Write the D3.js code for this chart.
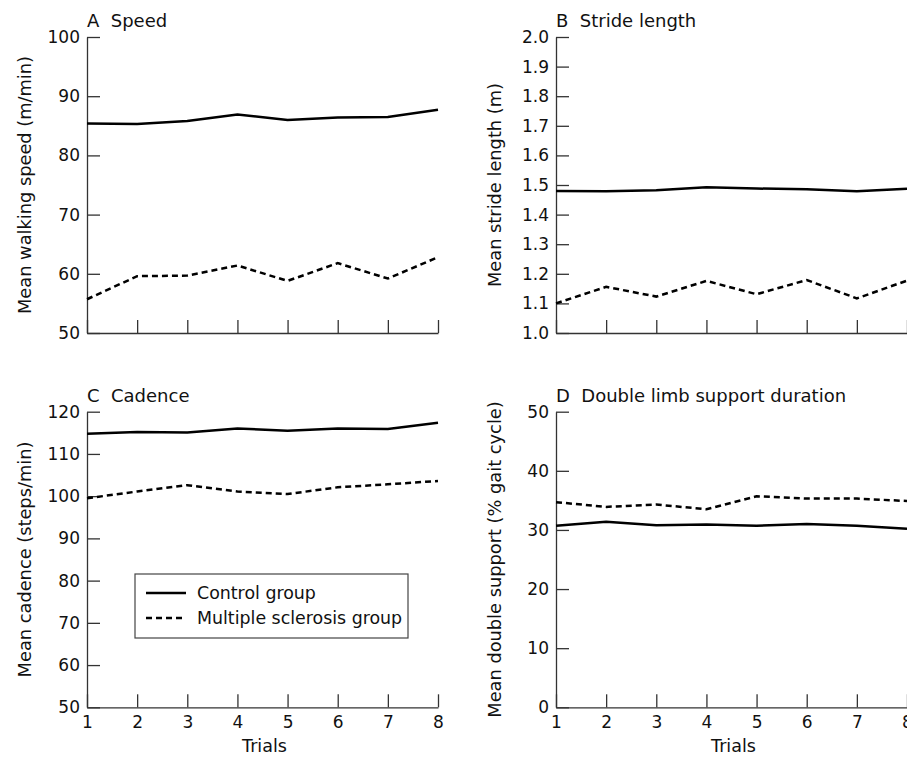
<!doctype html>
<html lang="en">
<head>
<meta charset="utf-8">
<title>Gait measures across trials</title>
<style>
  * { margin: 0; padding: 0; border: 0; }
  body { background: #fff; }
  svg text { font-family: "DejaVu Sans", sans-serif; fill: #111; }
  .axis path, .axis line { stroke: #333; stroke-width: 1.3px; }
  .axis text { font-size: 17px; fill: #111; }
  .series { fill: none; stroke: #000; stroke-width: 2.5px; }
</style>
</head>
<body>
<div id="chart"></div>
<script src="https://d3js.org/d3.v7.min.js"></script>
<script>

  // trials on the x axis
  var trials = [1, 2, 3, 4, 5, 6, 7, 8];

  // A  speed (m/min)
  var speedControl = [85.4, 85.3, 85.8, 86.9, 86.0, 86.4, 86.5, 87.7];
  var speedMS      = [55.7, 59.6, 59.7, 61.4, 58.8, 61.8, 59.2, 62.8];

  // B  stride length (m)
  var strideControl = [1.480, 1.479, 1.482, 1.492, 1.488, 1.486, 1.479, 1.487];
  var strideMS      = [1.100, 1.156, 1.123, 1.176, 1.131, 1.179, 1.117, 1.177];

  // C  cadence (steps/min)
  var cadenceControl = [114.8, 115.2, 115.1, 116.0, 115.5, 116.0, 115.9, 117.4];
  var cadenceMS      = [99.5, 101.1, 102.6, 101.1, 100.5, 102.1, 102.8, 103.6];

  // D  double support (% gait cycle)
  var doubleControl = [30.7, 31.4, 30.8, 30.9, 30.7, 31.0, 30.7, 30.2];
  var doubleMS      = [34.7, 33.9, 34.3, 33.5, 35.7, 35.3, 35.3, 34.9];

  var speedTicks   = [50, 60, 70, 80, 90, 100];
  var strideTicks  = [1.0, 1.1, 1.2, 1.3, 1.4, 1.5, 1.6, 1.7, 1.8, 1.9, 2.0];
  var cadenceTicks = [50, 60, 70, 80, 90, 100, 110, 120];
  var doubleTicks  = [0, 10, 20, 30, 40, 50];

  var groupNames = ["Control group", "Multiple sclerosis group"];

  var width = 907, height = 758;
  var svg = d3.select("#chart").append("svg")
      .attr("width", width).attr("height", height);

  var panels = [
    { title: "A  Speed", ylab: "Mean walking speed (m/min)", control: speedControl, ms: speedMS,
      ticks: speedTicks, fmt: d3.format("d"), left: 87, right: 438, top: 37, bottom: 333, labx: 31, xlabels: false },
    { title: "B  Stride length", ylab: "Mean stride length (m)", control: strideControl, ms: strideMS,
      ticks: strideTicks, fmt: d3.format(".1f"), left: 556, right: 907, top: 37, bottom: 333, labx: 501, xlabels: false },
    { title: "C  Cadence", ylab: "Mean cadence (steps/min)", control: cadenceControl, ms: cadenceMS,
      ticks: cadenceTicks, fmt: d3.format("d"), left: 87, right: 438, top: 411.7, bottom: 707.3, labx: 31, xlabels: true, legend: true },
    { title: "D  Double limb support duration", ylab: "Mean double support (% gait cycle)", control: doubleControl, ms: doubleMS,
      ticks: doubleTicks, fmt: d3.format("d"), left: 556, right: 907, top: 411.7, bottom: 707.3, labx: 501, xlabels: true }
  ];

  panels.forEach(function(p) {
    var x = d3.scaleLinear().domain([1, 8]).range([p.left, p.right]);
    var y = d3.scaleLinear().domain(d3.extent(p.ticks)).range([p.bottom, p.top]);
    var g = svg.append("g");

    g.append("g").attr("class", "axis")
      .attr("transform", "translate(" + p.left + ",0)")
      .call(d3.axisLeft(y).tickValues(p.ticks).tickFormat(p.fmt)
        .tickSizeInner(-13).tickSizeOuter(0).tickPadding(7));

    g.append("g").attr("class", "axis")
      .attr("transform", "translate(0," + p.bottom + ")")
      .call(d3.axisBottom(x).tickValues(trials)
        .tickFormat(p.xlabels ? d3.format("d") : "")
        .tickSizeInner(-13).tickSizeOuter(0).tickPadding(9));

    var line = d3.line().x(function(d, i) { return x(trials[i]); }).y(function(d) { return y(d); });
    g.append("path").attr("class", "series").attr("d", line(p.control));
    g.append("path").attr("class", "series").attr("stroke-dasharray", "6,4").attr("d", line(p.ms));

    g.append("text").attr("x", p.left).attr("y", p.top - 10)
      .attr("font-size", 18).style("white-space", "pre").text(p.title);

    g.append("text")
      .attr("transform", "translate(" + p.labx + "," + ((p.top + p.bottom) / 2) + ") rotate(-90)")
      .attr("text-anchor", "middle").attr("font-size", 17.8).text(p.ylab);

    if (p.xlabels) {
      g.append("text").attr("x", (p.left + p.right) / 2 + 2).attr("y", p.bottom + 45)
        .attr("text-anchor", "middle").attr("font-size", 17.5).text("Trials");
    }

    if (p.legend) {
      var lg = g.append("g");
      lg.append("rect").attr("x", 135).attr("y", 574).attr("width", 273).attr("height", 64)
        .attr("fill", "#fff").attr("stroke", "#444").attr("stroke-width", 1.2);
      groupNames.forEach(function(name, i) {
        var ly = 593 + i * 25;
        lg.append("line").attr("x1", 146).attr("x2", 186).attr("y1", ly).attr("y2", ly)
          .attr("class", "series").attr("stroke-dasharray", i ? "6,4" : null);
        lg.append("text").attr("x", 197).attr("y", ly + 6).attr("font-size", 17.4).text(name);
      });
    }
  });

</script>
</body>
</html>
